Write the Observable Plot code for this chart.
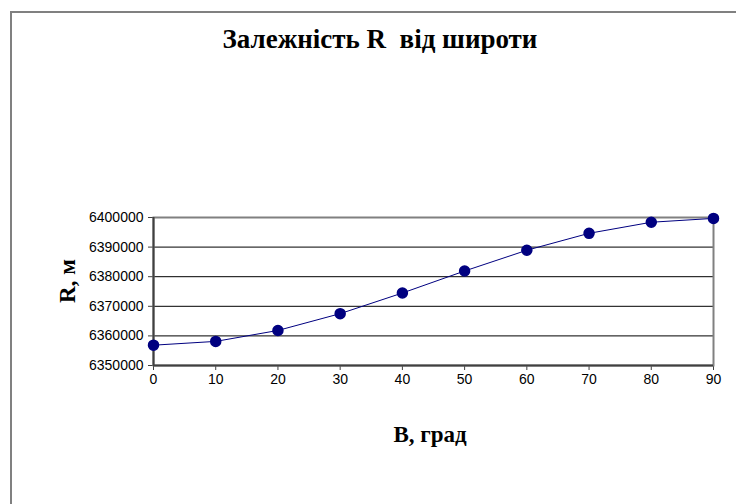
<!DOCTYPE html>
<html>
<head>
<meta charset="utf-8">
<script src="https://cdn.jsdelivr.net/npm/d3@7"></script>
<script src="https://cdn.jsdelivr.net/npm/@observablehq/plot@0.6"></script>
<style>
  html, body { margin: 0; padding: 0; background: #fff; }
  #chart { position: relative; width: 736px; height: 504px; overflow: hidden; }
</style>
</head>
<body>
<div id="chart"></div>
<script>
const latitudes = [0, 10, 20, 30, 40, 50, 60, 70, 80, 90];
const radii = [6356863, 6358145, 6361844, 6367519, 6374491, 6381929, 6388936, 6394659, 6398399, 6399699];
const yTicks = [6350000, 6360000, 6370000, 6380000, 6390000, 6400000];
const xTicks = [0, 10, 20, 30, 40, 50, 60, 70, 80, 90];
const titleText = "Залежність R  від широти";
const xLabel = "B, град";
const yLabel = "R, м";

const data = latitudes.map((b, i) => ({B: b, R: radii[i]}));

const plot = Plot.plot({
  width: 736,
  height: 504,
  marginLeft: 153,
  marginRight: 23,
  marginTop: 217,
  marginBottom: 139,
  style: {fontFamily: "Arial, 'Liberation Sans', sans-serif", fontSize: "14px", color: "#000", background: "transparent"},
  x: {domain: [0, 90], ticks: xTicks, tickSize: 5, tickPadding: 4, tickFormat: d => String(d), label: null},
  y: {domain: [6350000, 6400000], ticks: yTicks, tickSize: 5, tickPadding: 5, tickFormat: d => String(d), label: null},
  marks: [
    Plot.ruleY(yTicks.slice(1, -1), {stroke: "#000", strokeWidth: 1}),
    Plot.frame({stroke: "#808080", strokeWidth: 2}),
    Plot.ruleX([0], {stroke: "#404040", strokeWidth: 2}),
    Plot.ruleY([6350000], {stroke: "#404040", strokeWidth: 2}),
    Plot.line(data, {x: "B", y: "R", stroke: "#000080", strokeWidth: 1}),
    Plot.dot(data, {x: "B", y: "R", r: 5, fill: "#000080", stroke: "#000080"})
  ]
});

const svg = d3.select(plot);
svg.selectAll("[aria-label='x-axis tick'], [aria-label='y-axis tick']").attr("stroke", "#404040");

// outer chart border
svg.insert("rect", ":first-child")
  .attr("x", 11).attr("y", 12).attr("width", 800).attr("height", 600)
  .attr("fill", "#fff").attr("stroke", "#808080").attr("stroke-width", 2);

const serif = "'Times New Roman', 'Liberation Serif', serif";
svg.append("text")
  .attr("x", 380).attr("y", 48)
  .attr("text-anchor", "middle")
  .attr("font-family", serif).attr("font-weight", "bold").attr("font-size", 27)
  .attr("fill", "#000")
  .text(titleText);

svg.append("text")
  .attr("x", 430).attr("y", 442)
  .attr("text-anchor", "middle")
  .attr("font-family", serif).attr("font-weight", "bold").attr("font-size", 23)
  .attr("fill", "#000")
  .text(xLabel);

svg.append("text")
  .attr("transform", "translate(75,281) rotate(-90)")
  .attr("text-anchor", "middle")
  .attr("font-family", serif).attr("font-weight", "bold").attr("font-size", 23)
  .attr("fill", "#000")
  .text(yLabel);

document.getElementById("chart").appendChild(plot);
</script>
</body>
</html>
